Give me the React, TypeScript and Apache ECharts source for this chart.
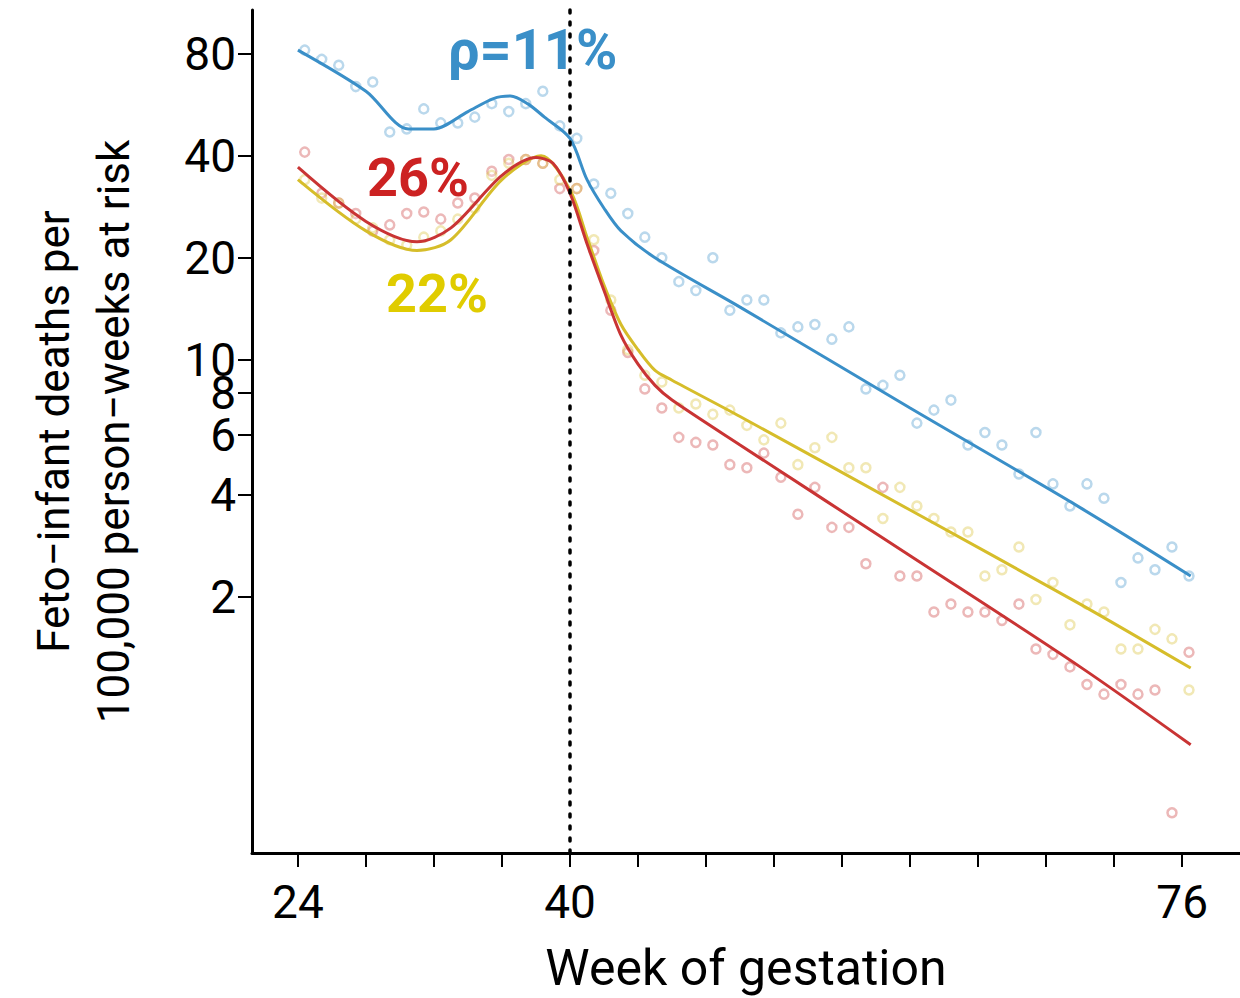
import { useEffect, useRef } from 'react'
import * as echarts from 'echarts'

const weeks = Array.from({ length: 53 }, (_, i) => 24.4 + i)

const blueDots = [82, 77, 74, 64, 66, 47, 48, 55, 50, 50, 52, 57, 54, 57, 62, 49, 45, 33, 31, 27, 23, 20, 17, 16, 20, 14, 15, 15, 12, 12.5, 12.7, 11.5, 12.5, 8.2, 8.4, 9.0, 6.5, 7.1, 7.6, 5.6, 6.1, 5.6, 4.6, 6.1, 4.3, 3.7, 4.3, 3.9, 2.2, 2.6, 2.4, 2.8, 2.3]
const redDots = [41, 31, 29, 27, 24, 25, 27, 27.3, 26, 29, 30, 36, 39, 39, 38, 32, 32, 21, 14, 10.5, 8.2, 7.2, 5.9, 5.7, 5.6, 4.9, 4.8, 5.3, 4.5, 3.5, 4.2, 3.2, 3.2, 2.5, 4.2, 2.3, 2.3, 1.8, 1.9, 1.8, 1.8, 1.7, 1.9, 1.4, 1.35, 1.24, 1.1, 1.03, 1.1, 1.03, 1.06, 0.46, 1.37]
const yellowDots = [34, 30, 29, 26, 24.5, 22.6, 21.8, 23, 24, 26, 28, 35, 38, 39, 38, 34, 32, 22.6, 15, 10.7, 9.0, 8.6, 7.2, 7.4, 6.9, 7.1, 6.4, 5.8, 6.5, 4.9, 5.5, 5.9, 4.8, 4.8, 3.4, 4.2, 3.7, 3.4, 3.1, 3.1, 2.3, 2.4, 2.8, 1.96, 2.2, 1.65, 1.9, 1.8, 1.4, 1.4, 1.6, 1.5, 1.06]

const blueFitWeeks = [24, 28, 30.5, 32, 34, 35.5, 36.5, 37.5, 38.5, 40, 41, 42, 43, 45, 50, 60, 70, 76.5]
const blueFit = [82, 62, 48, 48, 54, 59, 60, 57, 52, 45, 34, 28, 24, 20, 14.3, 7.2, 3.66, 2.3]
const redFitWeeks = [24, 28, 31, 33, 36, 38, 39, 40, 41, 42, 43, 44, 45, 46, 50, 60, 70, 76.5]
const redFit = [37, 25.6, 22.3, 24.5, 35, 39.5, 38, 31, 22, 16, 11.8, 9.7, 8.4, 7.6, 5.6, 2.64, 1.24, 0.73]
const yellowFitWeeks = [24, 28, 31, 33, 36, 38.3, 40, 41, 42, 43, 44, 45, 46, 50, 60, 70, 76.5]
const yellowFit = [34, 24, 21, 22.6, 34, 40, 31.7, 23, 16.6, 12.7, 10.7, 9.3, 8.7, 6.8, 3.6, 1.9, 1.23]

const yTicks = [2, 4, 6, 8, 10, 20, 40, 60, 80]
const xTicks = [24, 28, 32, 36, 40, 44, 48, 52, 56, 60, 64, 68, 72, 76]
const xLabels = [24, 40, 76]

const BLUE = '#3a8fc8'
const RED = '#c93434'
const YELLOW = '#d6bd2a'

const pts = (xs: number[], ys: number[]) => xs.map((x, i) => [x, Math.log10(ys[i])])

export default function App() {
  const ref = useRef<HTMLDivElement | null>(null)

  useEffect(() => {
    document.body.style.margin = '0'
    if (!ref.current) return
    const chart = echarts.init(ref.current, null, { renderer: 'svg' })
    const dots = (data: number[], color: string) => ({
      type: 'scatter',
      data: pts(weeks, data),
      symbolSize: 9,
      itemStyle: { color: 'rgba(255,255,255,0.6)', borderColor: color, borderWidth: 2.5, opacity: 0.35 },
      z: 1,
    })
    const fit = (xs: number[], ys: number[], color: string) => ({
      type: 'line',
      data: pts(xs, ys),
      smooth: 0.3,
      showSymbol: false,
      lineStyle: { color, width: 3 },
      z: 3,
    })
    chart.setOption({
      animation: false,
      textStyle: { fontFamily: 'Roboto' },
      grid: { left: 252, top: 10, right: 0, bottom: 145, containLabel: false, outerBoundsMode: 'none' },
      xAxis: {
        type: 'value',
        min: 21.3,
        max: 79.4,
        splitLine: { show: false },
        axisLine: { onZero: false, lineStyle: { color: '#000', width: 3 } },
        axisTick: { customValues: xTicks, length: 14, lineStyle: { color: '#000', width: 2 } },
        axisLabel: { customValues: xLabels, fontSize: 46, color: '#000', margin: 26 },
        name: 'Week of gestation',
        nameLocation: 'middle',
        nameGap: 90,
        nameTextStyle: { fontSize: 50, color: '#000' },
      },
      yAxis: {
        type: 'value',
        min: Math.log10(0.35),
        max: Math.log10(107.7),
        splitLine: { show: false },
        axisLine: { show: true, onZero: false, lineStyle: { color: '#000', width: 3 } },
        axisTick: { show: true, customValues: yTicks.map(Math.log10), length: 14, lineStyle: { color: '#000', width: 2 } },
        axisLabel: {
          customValues: yTicks.map(Math.log10),
          formatter: (v: number) => String(Math.round(Math.pow(10, v))),
          fontSize: 46,
          color: '#000',
          margin: 16,
          hideOverlap: false,
          showMinLabel: true,
          showMaxLabel: true,
        },
        name: 'Feto\u2212infant deaths per\n100,000 person\u2212weeks at risk',
        nameLocation: 'middle',
        nameGap: 108,
        nameRotate: 90,
        nameTextStyle: { fontSize: 44, color: '#000', lineHeight: 60 },
      },
      graphic: [
        { type: 'text', left: 448, top: 22, style: { text: '\u03c1=11%', fontSize: 56, fontWeight: 'bold', fill: BLUE, fontFamily: 'Roboto' } },
        { type: 'text', left: 367, top: 150, style: { text: '26%', fontSize: 54, fontWeight: 'bold', fill: '#cc2222', fontFamily: 'Roboto' } },
        { type: 'text', left: 386, top: 266, style: { text: '22%', fontSize: 54, fontWeight: 'bold', fill: '#e0cc00', fontFamily: 'Roboto' } },
      ],
      series: [
        dots(blueDots, BLUE),
        dots(redDots, RED),
        dots(yellowDots, YELLOW),
        fit(yellowFitWeeks, yellowFit, YELLOW),
        fit(redFitWeeks, redFit, RED),
        {
          ...fit(blueFitWeeks, blueFit, BLUE),
          markLine: {
            silent: true,
            symbol: 'none',
            label: { show: false },
            lineStyle: { color: '#000', type: [3, 9], width: 3.5, cap: 'round' },
            data: [{ xAxis: 40 }],
          },
        },
      ],
    })
    return () => chart.dispose()
  }, [])

  return <div ref={ref} style={{ width: 1240, height: 998 }} />
}
